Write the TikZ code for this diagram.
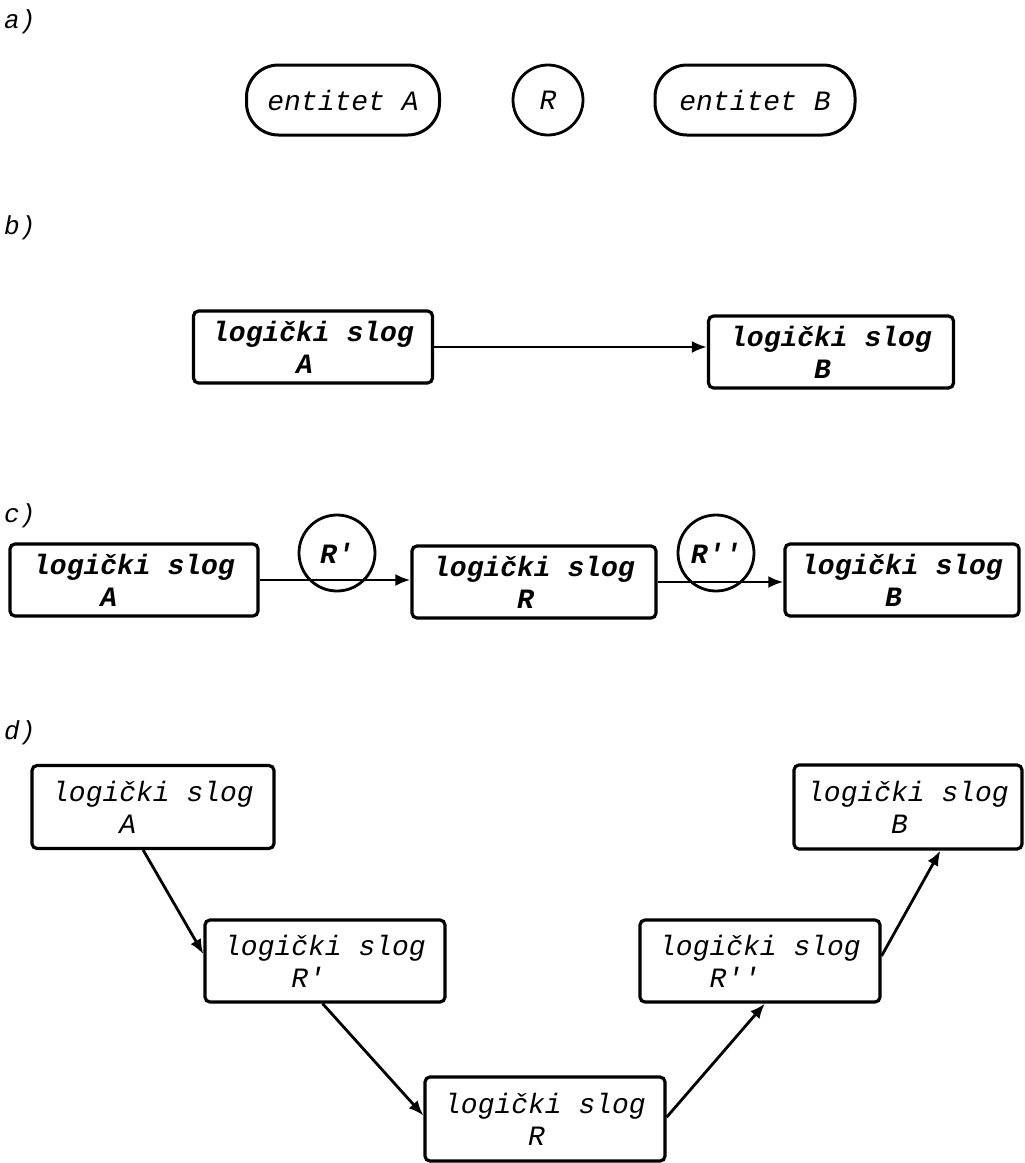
\documentclass[tikz,border=0pt]{standalone}
\usepackage{fontspec}
\newfontfamily\tw{Liberation Mono}
\usetikzlibrary{arrows.meta,calc}
\newcommand\indn[1]{\hspace*{#1\dimexpr0.6em\relax}}
\begin{document}
\begin{tikzpicture}[x=1pt,y=-1pt,
  txt/.style={font=\tw\itshape\fontsize{28}{32}\selectfont},
  txtb/.style={font=\tw\bfseries\itshape\fontsize{28}{32}\selectfont},
  lbl/.style={font=\tw\itshape\fontsize{26}{30}\selectfont, anchor=west, inner sep=0pt},
  recbox/.style={draw, line width=3.2pt, rounded corners=5pt, align=left, inner sep=0pt},
  entbox/.style={draw, line width=3pt, rounded corners=32pt, align=center, inner sep=0pt, minimum height=70pt},
  relc/.style={draw, circle, line width=2.8pt, inner sep=0pt, minimum size=76pt},
  conn/.style={line width=2.8pt, -{Latex[length=15pt,width=12pt]}}
]
\useasboundingbox (0,0) rectangle (1025,1163);
\fill[white] (0,0) rectangle (1025,1163);

% a)
\node[lbl] (la) at (4,22) {a)};
\node[entbox, txt, minimum width=193pt] (entA) at (343,100) {entitet A};
\node[relc, txt, minimum size=70pt] (relR) at (548,100) {R};
\node[entbox, txt, minimum width=200pt] (entB) at (755,100) {entitet B};

% b)
\node[lbl] (lb) at (4,228) {b)};
\node[recbox, txtb, minimum width=239pt, minimum height=72pt] (bA) at (313,347) {logički slog\\\indn{5}A};
\node[recbox, txtb, minimum width=245pt, minimum height=72pt] (bB) at (831,352) {logički slog\\\indn{5}B};
\draw[conn] (bA.east) -- (bA.east -| bB.west);

% c)
\node[lbl] (lc) at (4,516) {c)};
\node[recbox, txtb, minimum width=248pt, minimum height=72pt] (cA) at (134,580) {logički slog\\\indn{4}A};
\node[recbox, txtb, minimum width=244pt, minimum height=72pt] (cR) at (534,582) {logički slog\\\indn{5}R};
\node[recbox, txtb, minimum width=234pt, minimum height=72pt] (cB) at (902,580) {logički slog\\\indn{5}B};
\draw[conn] (cA.east) -- (cA.east -| cR.west);
\draw[conn] (cR.east) -- (cR.east -| cB.west);
\node[relc, txtb] (cRp) at (337,553) {R'};
\node[relc, txtb] (cRpp) at (716,553) {R''};

% d)
\node[lbl] (ld) at (4,733) {d)};
\node[recbox, txt, minimum width=242pt, minimum height=83pt] (dA) at (153,807) {logički slog\\\indn{4}A};
\node[recbox, txt, minimum width=228pt, minimum height=84pt] (dB) at (908,807) {logički slog\\\indn{5}B};
\node[recbox, txt, minimum width=240pt, minimum height=82pt] (dRp) at (325,961) {logički slog\\\indn{4}R'};
\node[recbox, txt, minimum width=240pt, minimum height=82pt] (dRpp) at (760,961) {logički slog\\\indn{3}R''};
\node[recbox, txt, minimum width=240pt, minimum height=84pt] (dR) at (545,1119) {logički slog\\\indn{5}R};

\draw[conn] ($(dA.south west)!0.46!(dA.south east)$) -- ($(dRp.north west)!0.42!(dRp.south west)$);
\draw[conn] ($(dRp.south west)!0.49!(dRp.south east)$) -- ($(dR.north west)!0.46!(dR.south west)$);
\draw[conn] ($(dR.north east)!0.48!(dR.south east)$) -- ($(dRpp.south west)!0.52!(dRpp.south east)$);
\draw[conn] ($(dRpp.north east)!0.44!(dRpp.south east)$) -- ($(dB.south west)!0.64!(dB.south east)$);
\end{tikzpicture}
\end{document}
